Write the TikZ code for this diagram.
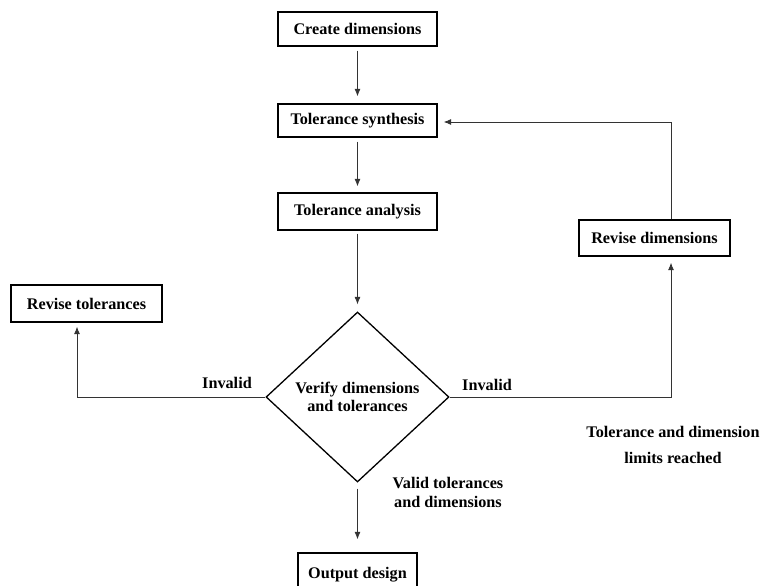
\documentclass[tikz,border=0pt]{standalone}
\usepackage{fontspec}
\setmainfont{Liberation Serif}
\usetikzlibrary{shapes.geometric,arrows.meta}
\begin{document}
\begin{tikzpicture}[x=1pt,y=-1pt,
 box/.style={draw, line width=1.4pt, rectangle, inner sep=0pt, font=\fontsize{16.2}{18}\selectfont\bfseries},
 lbl/.style={font=\fontsize{16.2}{19}\selectfont\bfseries, align=center, inner sep=0pt},
 conn/.style={line width=0.8pt, draw=black!80, -{Latex[length=7.5pt,width=6pt]}}]
\useasboundingbox (0,0) rectangle (763,586);
\node[box, minimum width=159pt, minimum height=34pt] (create) at (357.5,29) {Create dimensions};
\node[box, minimum width=159pt, minimum height=33pt] (synth) at (357.5,120.5) {Tolerance synthesis};
\node[box, minimum width=159pt, minimum height=37pt] (analysis) at (357.5,211.5) {Tolerance analysis};
\node[box, minimum width=151pt, minimum height=36pt] (revdim) at (654.5,238) {Revise dimensions};
\node[box, minimum width=151pt, minimum height=37pt] (revtol) at (86.5,303.5) {Revise tolerances};
\node[draw, diamond, aspect=1, line width=1.3pt, minimum width=183pt, minimum height=170pt, inner sep=0pt, align=center, font=\fontsize{16.2}{18}\selectfont\bfseries] (verify) at (357.5,397) {Verify dimensions\\and tolerances};
\node[box, minimum width=119pt, minimum height=44pt] (out) at (357.5,575) {Output design};

\draw[conn, shorten <=4pt, shorten >=7pt] (create) -- (synth);
\draw[conn, shorten <=4pt, shorten >=6pt] (synth) -- (analysis);
\draw[conn, shorten <=3pt, shorten >=7pt] (analysis) -- (verify);
\draw[conn, shorten <=6pt, shorten >=13pt] (verify) -- (out);

\coordinate (lt) at (77,397);
\draw[conn, shorten >=4pt] (verify.west) -- (lt) -- (lt |- revtol.south);
\coordinate (rt) at (671,397);
\draw[conn, shorten >=6pt] (verify.east) -- (rt) -- (rt |- revdim.south);
\coordinate (rdtop) at (671,122);
\draw[conn, shorten >=6pt] (revdim.north -| rdtop) -- (rdtop) -- (rdtop -| synth.east);

\node[lbl] (inv1) at (227,383) {Invalid};
\node[lbl] (inv2) at (487,385) {Invalid};
\node[lbl, font=\fontsize{16.2}{26}\selectfont\bfseries] (lim) at (673,445) {Tolerance and dimension\\limits reached};
\node[lbl] (valid) at (448,492.5) {Valid tolerances\\and dimensions};
\end{tikzpicture}
\end{document}
